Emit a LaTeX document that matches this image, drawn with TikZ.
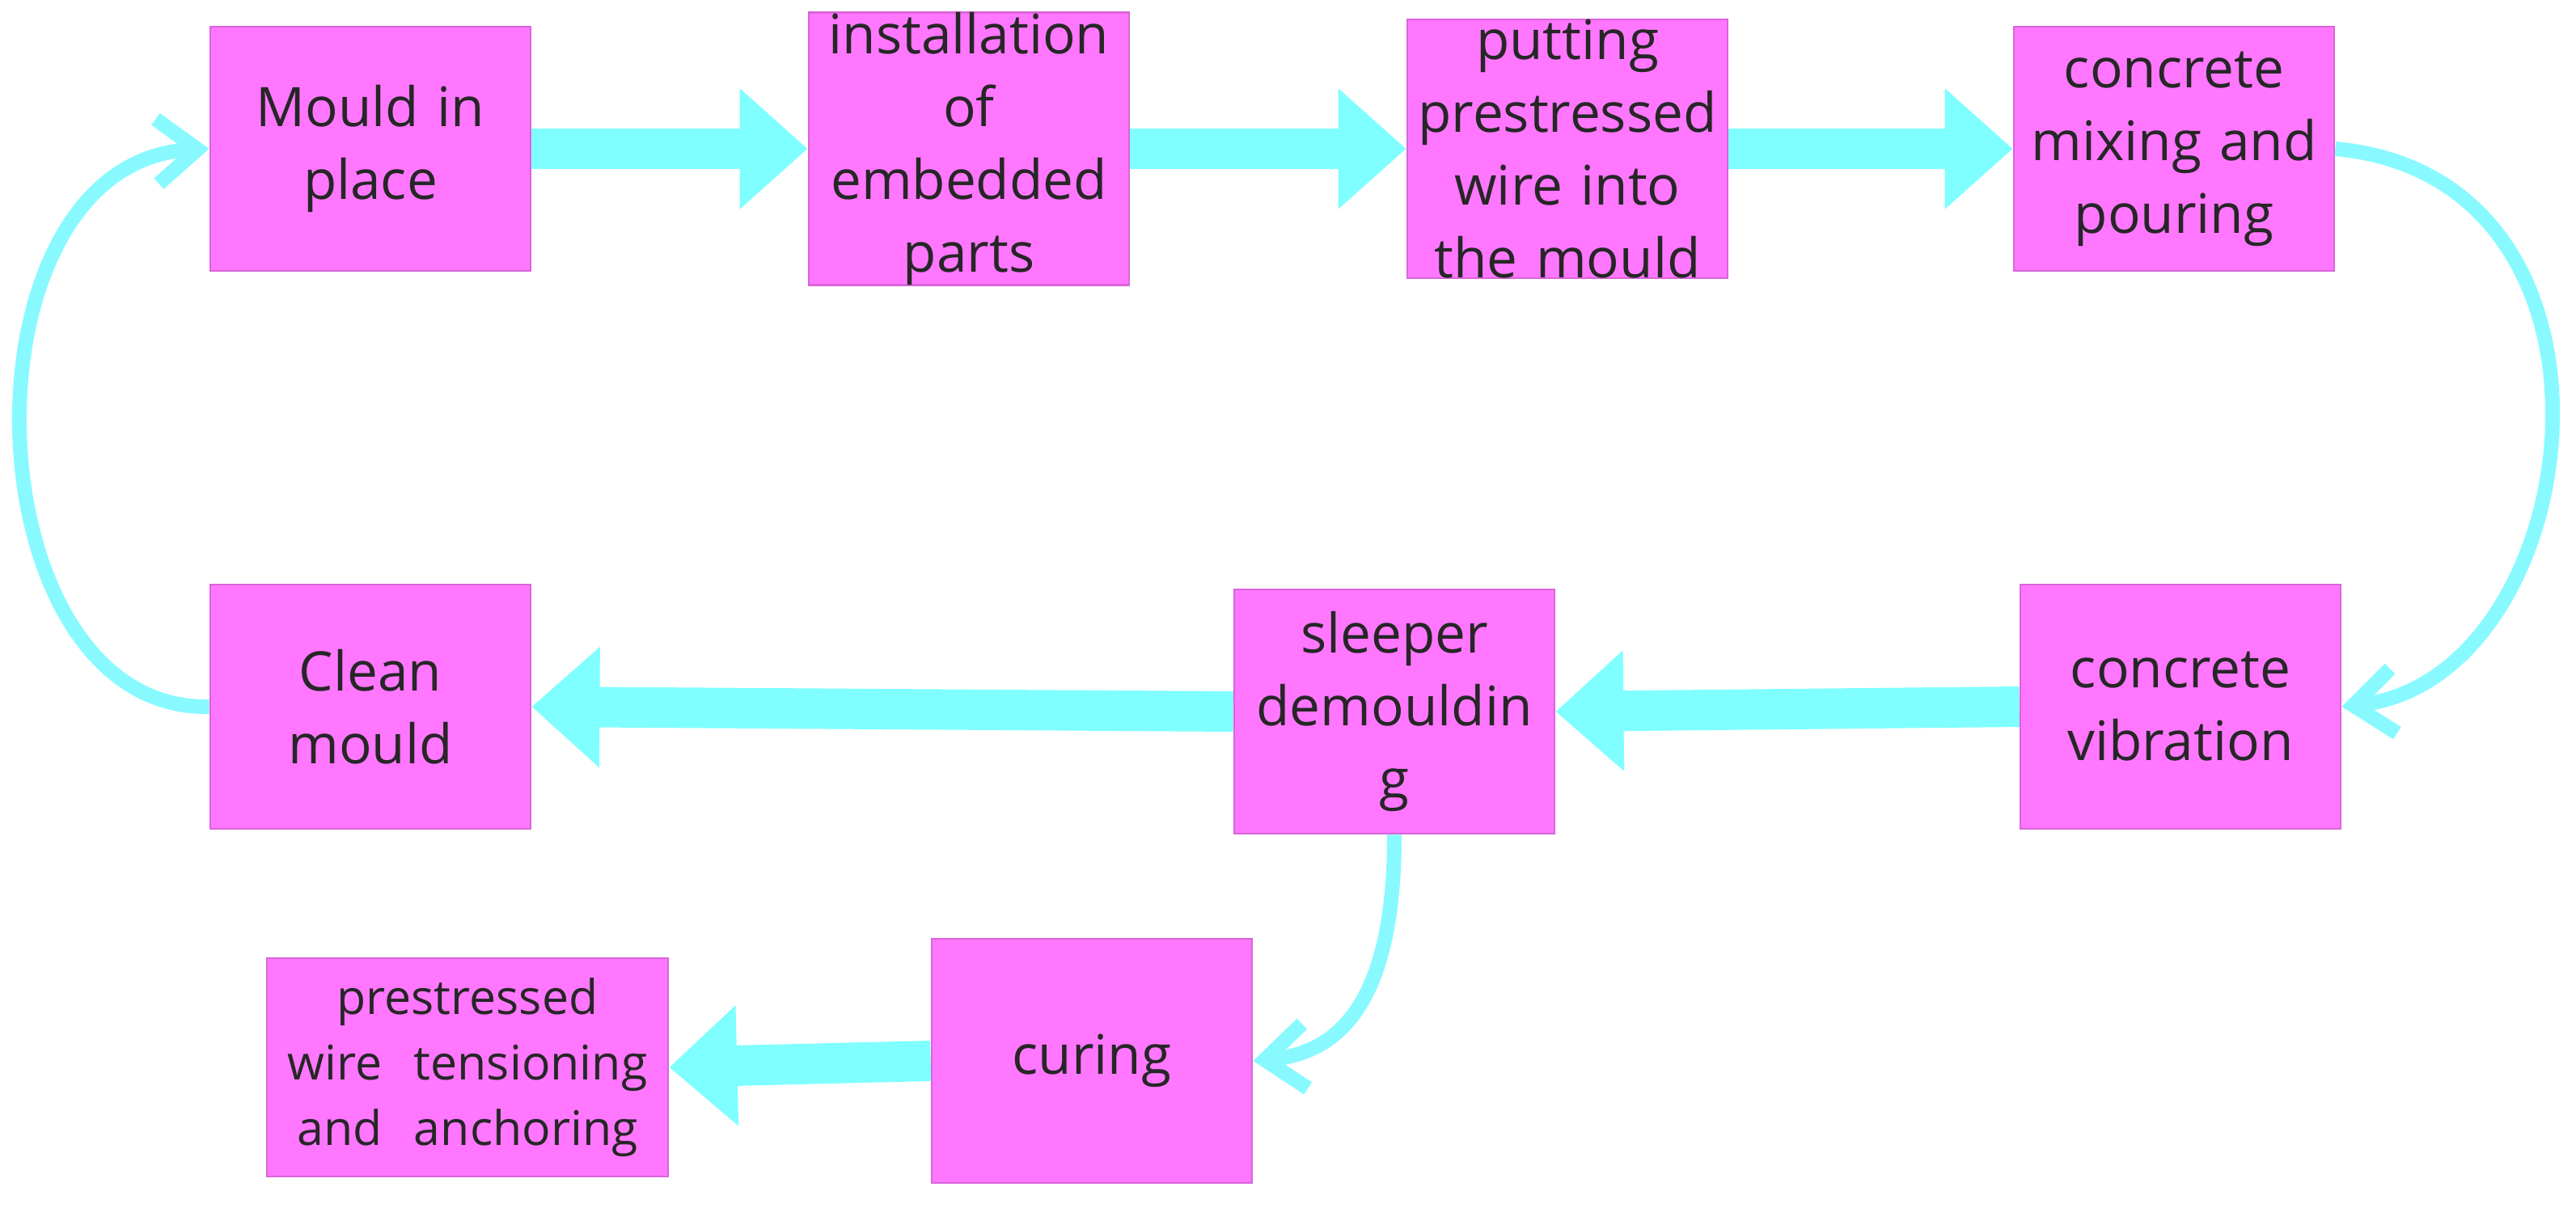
\documentclass[tikz,border=0pt]{standalone}
\usepackage{fontspec}
\setmainfont{Open Sans}
\usetikzlibrary{arrows.meta}
\definecolor{box}{HTML}{FF77FF}
\definecolor{arr}{HTML}{7FFFFF}
\definecolor{carr}{HTML}{88FAFF}
\begin{document}
\begin{tikzpicture}[x=0.02cm,y=-0.02cm,
  bx/.style={fill=box,draw=box!85!black,line width=0.8pt,minimum width=3.96cm,minimum height=3.02cm,text width=3.92cm,align=center,inner sep=0pt,font=\fontsize{19.2}{25.6}\selectfont,text=black!85},
  big/.style={draw=arr,line width=0.5cm,-{Triangle[length=0.84cm,width=1.44cm]}},
  thin/.style={draw=carr,line width=0.18cm,-{Straight Barb[length=0.5cm,width=0.8cm]}}]
\useasboundingbox (0,0) rectangle (1592.5,757.5);
\node[bx] (a) at (229,92) {Mould in\\place};
\node[bx] (b) at (599,92) {installation\\of\\embedded\\parts};
\node[bx] (c) at (969,92) {putting\\prestressed\\wire into\\the mould};
\node[bx] (d) at (1344,92) {concrete\\mixing and\\pouring};
\node[bx] (e) at (1348,437) {concrete\\vibration};
\node[bx] (f) at (862,440) {sleeper\\demouldin\\g};
\node[bx] (g) at (229,437) {Clean\\mould};
\node[bx] (h) at (675,656) {curing};
\node[bx,minimum width=4.96cm,minimum height=2.7cm,text width=4.8cm,font=\fontsize{16.8}{23}\selectfont] (i) at (289,660) {prestressed\\wire\ \ tensioning\\and\ \ anchoring};
\draw[big] (a.east) -- (b.west);
\draw[big] (b.east) -- (c.west);
\draw[big] (c.east) -- (d.west);
\draw[big] (e.west) -- (f.east);
\draw[big] (f.west) -- (g.east);
\draw[big] (h.west) -- (i.east);
\draw[thin] (d.east) .. controls (1640,110) and (1600,420) .. (e.east);
\draw[thin] (g.west) .. controls (-20,440) and (-30,100) .. (a.west);
\draw[thin] (f.south) .. controls (862,600) and (840,650) .. (h.east);
\end{tikzpicture}
\end{document}
